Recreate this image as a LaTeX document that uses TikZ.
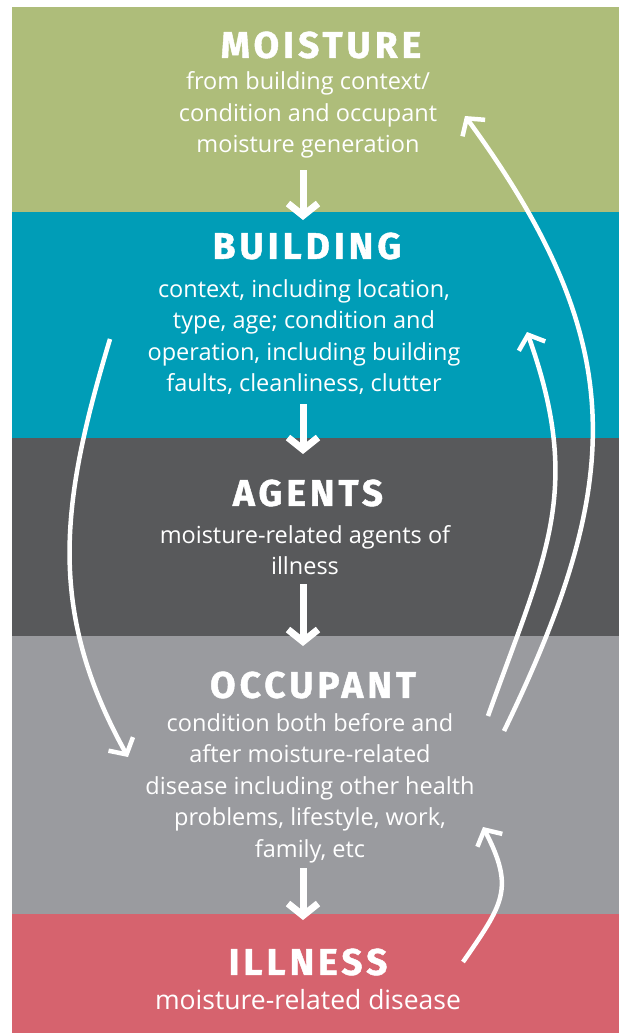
\documentclass[tikz,border=0pt]{standalone}
\usepackage{fontspec}
\setmainfont{Open Sans}
\newfontfamily\titlefont[LetterSpace=11,BoldFeatures={FakeBold=1.2}]{Fira Sans}
\usetikzlibrary{arrows.meta}
\definecolor{moist}{HTML}{AEBD7A}
\definecolor{build}{HTML}{009DB7}
\definecolor{agent}{HTML}{58595B}
\definecolor{occup}{HTML}{9A9B9F}
\definecolor{ill}{HTML}{D6636E}
\tikzset{
  band/.style={inner sep=0pt, outer sep=0pt, minimum width=607pt, anchor=north west},
  ttl/.style={text=white, font=\titlefont\bfseries\fontsize{37}{37}\selectfont, inner sep=0pt},
  body/.style={text=white, font=\fontsize{23.5}{31.5}\selectfont, align=center, inner sep=0pt},
  bigbody/.style={body, font=\fontsize{26.5}{31.5}\selectfont},
  downarr/.style={draw=white, line width=7pt, -{Straight Barb[length=12pt,width=30pt]}},
  curvearr/.style={draw=white, line width=4.5pt, -{Straight Barb[length=12pt,width=28pt]}}
}
\begin{document}
\begin{tikzpicture}[x=1pt,y=-1pt]
\useasboundingbox (0,0) rectangle (619,1033);
\node[band, fill=moist, minimum height=205pt] (moistureband) at (12,7) {};
\node[band, fill=build, minimum height=226pt] (buildingband) at (12,212) {};
\node[band, fill=agent, minimum height=198pt] (agentsband) at (12,438) {};
\node[band, fill=occup, minimum height=278pt] (occupantband) at (12,636) {};
\node[band, fill=ill, minimum height=119pt] (illnessband) at (12,914) {};

\node[ttl] (moisture) at (321,45) {MOISTURE};
\node[body] (moisturetxt) at (308,115) {from building context/\\condition and occupant\\moisture generation};
\node[ttl] (building) at (307,246) {BUILDING};
\node[body] (buildingtxt) at (304,337) {context, including location,\\type, age; condition and\\operation, including building\\faults, cleanliness, clutter};
\node[ttl] (agents) at (308,493) {AGENTS};
\node[body] (agentstxt) at (305,550) {moisture-related agents of\\illness};
\node[ttl] (occupant) at (313,685) {OCCUPANT};
\node[body] (occupanttxt) at (310,788) {condition both before and\\after moisture-related\\disease including other health\\problems, lifestyle, work,\\family, etc};
\node[ttl] (illness) at (308,962) {ILLNESS};
\node[bigbody] (illnesstxt) at (308,1000) {moisture-related disease};

\coordinate (d1s) at (303,170); \coordinate (d1e) at (303,220);
\coordinate (d2s) at (303,404); \coordinate (d2e) at (303,454);
\coordinate (d3s) at (303,584); \coordinate (d3e) at (303,646);
\coordinate (d4s) at (303,868); \coordinate (d4e) at (303,920);
\draw[downarr] (d1s) -- (d1e);
\draw[downarr] (d2s) -- (d2e);
\draw[downarr] (d3s) -- (d3e);
\draw[downarr] (d4s) -- (d4e);

\coordinate (bigs) at (504,731); \coordinate (bige) at (465,116);
\coordinate (mids) at (488,716); \coordinate (mide) at (527,332);
\coordinate (lfts) at (110,339); \coordinate (lfte) at (128,757);
\coordinate (bots) at (463,962); \coordinate (bote) at (483,827);
\draw[curvearr] (bigs) .. controls (626,479) and (630,342) .. (bige);
\draw[curvearr] (mids) .. controls (545,556) and (584,492) .. (mide);
\draw[curvearr] (lfts) .. controls (61,502) and (46,609) .. (lfte);
\draw[curvearr] (bots) .. controls (503,904) and (515,889) .. (bote);
\end{tikzpicture}
\end{document}
